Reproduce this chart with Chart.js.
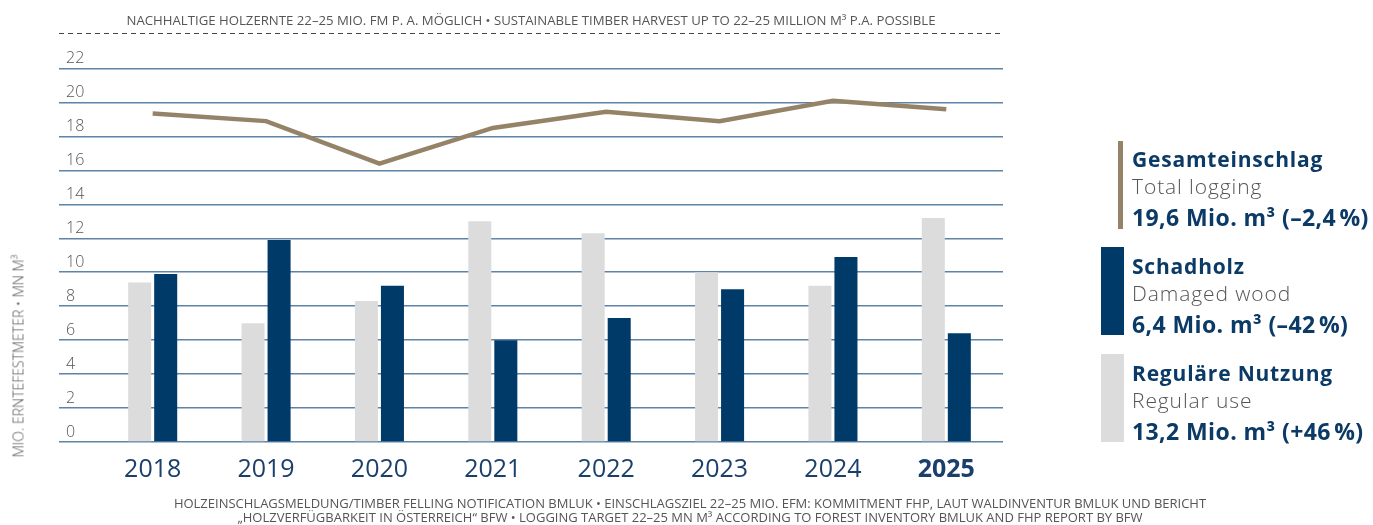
<!DOCTYPE html>
<html>
<head>
<meta charset="utf-8">
<script src="https://cdn.jsdelivr.net/npm/chart.js@4.4.1/dist/chart.umd.min.js"></script>
<style>
  body { margin: 0; background: #fff; font-family: "Open Sans", sans-serif; }
  #wrap { position: relative; width: 1373px; height: 525px; overflow: hidden; }
  #chart { position: absolute; left: 0; top: 0; }
  .note { position: absolute; color: #555; font-size: 13.2px; white-space: nowrap; text-align: center; }
  #head { left: 0; width: 1062px; top: 11px; }
  #dash { position: absolute; left: 59px; width: 944px; top: 33px; height: 1px;
          background: repeating-linear-gradient(to right, #444 0 5px, transparent 5px 9px); }
  #ytitle { left: 18px; top: 356px; transform: translate(-50%, -50%) rotate(-90deg); font-size: 14px; font-weight: 300; }
  #foot { left: 0; width: 1380px; top: 496px; font-size: 13px; line-height: 14px; }
  .leg { position: absolute; left: 1132px; color: #0b3a66; white-space: nowrap; }
  .leg b { display: block; font-weight: 700; font-size: 21px; letter-spacing: 0.8px; line-height: 27px; }
  .leg span { display: block; color: #555; font-weight: 300; font-size: 21px; letter-spacing: 0.9px; line-height: 26px; }
  .leg i { display: block; font-style: normal; font-weight: 700; font-size: 23px; letter-spacing: 0.4px; line-height: 36px; }
  .sw { position: absolute; }
</style>
</head>
<body>
<div id="wrap">
  <canvas id="chart" width="1373" height="525"></canvas>
  <div class="note" id="head">NACHHALTIGE HOLZERNTE 22–25 MIO. FM P. A. MÖGLICH • SUSTAINABLE TIMBER HARVEST UP TO 22–25 MILLION M³ P.A. POSSIBLE</div>
  <div id="dash"></div>
  <div class="note" id="ytitle">MIO. ERNTEFESTMETER • MN M³</div>
  <div class="note" id="foot">HOLZEINSCHLAGSMELDUNG/TIMBER FELLING NOTIFICATION BMLUK • EINSCHLAGSZIEL 22–25 MIO. EFM: KOMMITMENT FHP, LAUT WALDINVENTUR BMLUK UND BERICHT<br>„HOLZVERFÜGBARKEIT IN ÖSTERREICH“ BFW • LOGGING TARGET 22–25 MN M³ ACCORDING TO FOREST INVENTORY BMLUK AND FHP REPORT BY BFW</div>

  <div class="sw" style="left:1118px;top:141px;width:5px;height:88px;background:#958368"></div>
  <div class="leg" style="top:146px"><b>Gesamteinschlag</b><span>Total logging</span><i>19,6 Mio. m³ (–2,4&#8239;%)</i></div>

  <div class="sw" style="left:1101px;top:247px;width:23px;height:88px;background:#003a68"></div>
  <div class="leg" style="top:253px"><b>Schadholz</b><span>Damaged wood</span><i>6,4 Mio. m³ (–42&#8239;%)</i></div>

  <div class="sw" style="left:1101px;top:354px;width:23px;height:88px;background:#dcdcdc"></div>
  <div class="leg" style="top:360px"><b>Reguläre Nutzung</b><span>Regular use</span><i>13,2 Mio. m³ (+46&#8239;%)</i></div>
</div>

<script>
const years = ['2018', '2019', '2020', '2021', '2022', '2023', '2024', '2025'];
const regularUse = [9.4, 7.0, 8.3, 13.0, 12.3, 10.0, 9.2, 13.2];
const damagedWood = [9.9, 11.9, 9.2, 6.0, 7.3, 9.0, 10.9, 6.4];
const totalLogging = [19.35, 18.9, 16.4, 18.5, 19.45, 18.9, 20.1, 19.6];
const yTicks = [0, 2, 4, 6, 8, 10, 12, 14, 16, 18, 20, 22];

const navy = '#003a68';
const grey = '#dcdcdc';
const tan = '#958368';
const gridBlue = '#5f83a6';

const ctx = document.getElementById('chart').getContext('2d');

new Chart(ctx, {
  type: 'bar',
  data: {
    labels: years,
    datasets: [
      {
        type: 'line',
        label: 'Gesamteinschlag',
        data: totalLogging,
        borderColor: tan,
        borderWidth: 4.5,
        pointRadius: 0,
        tension: 0,
        order: 0
      },
      {
        label: 'Reguläre Nutzung',
        data: regularUse,
        backgroundColor: grey,
        barPercentage: 0.885,
        categoryPercentage: 0.459,
        order: 1
      },
      {
        label: 'Schadholz',
        data: damagedWood,
        backgroundColor: navy,
        barPercentage: 0.885,
        categoryPercentage: 0.459,
        order: 1
      }
    ]
  },
  options: {
    responsive: false,
    animation: false,
    layout: { padding: { left: 66, right: 370, top: 68.5, bottom: 33 } },
    plugins: {
      legend: { display: false },
      tooltip: { enabled: false }
    },
    scales: {
      x: {
        grid: { display: false, drawTicks: false },
        border: { display: false },
        ticks: {
          color: '#1b3f6b',
          padding: 13,
          font: (c) => ({
            family: '"Open Sans", sans-serif',
            size: 25,
            weight: c.index === years.length - 1 ? '700' : '400'
          })
        },
        afterFit: (s) => { s.height = 50; }
      },
      y: {
        min: 0,
        max: 22,
        afterBuildTicks: (s) => { s.ticks = yTicks.map(v => ({ value: v })); },
        afterFit: (s) => { s.width = 30; },
        border: { display: false },
        grid: {
          color: gridBlue,
          lineWidth: 1.5,
          drawTicks: true,
          tickLength: 37
        },
        ticks: {
          crossAlign: 'far',
          labelOffset: -10,
          color: '#555',
          padding: 0,
          font: { family: '"Open Sans", sans-serif', size: 16, weight: '300' }
        }
      }
    }
  }
});
</script>
</body>
</html>
